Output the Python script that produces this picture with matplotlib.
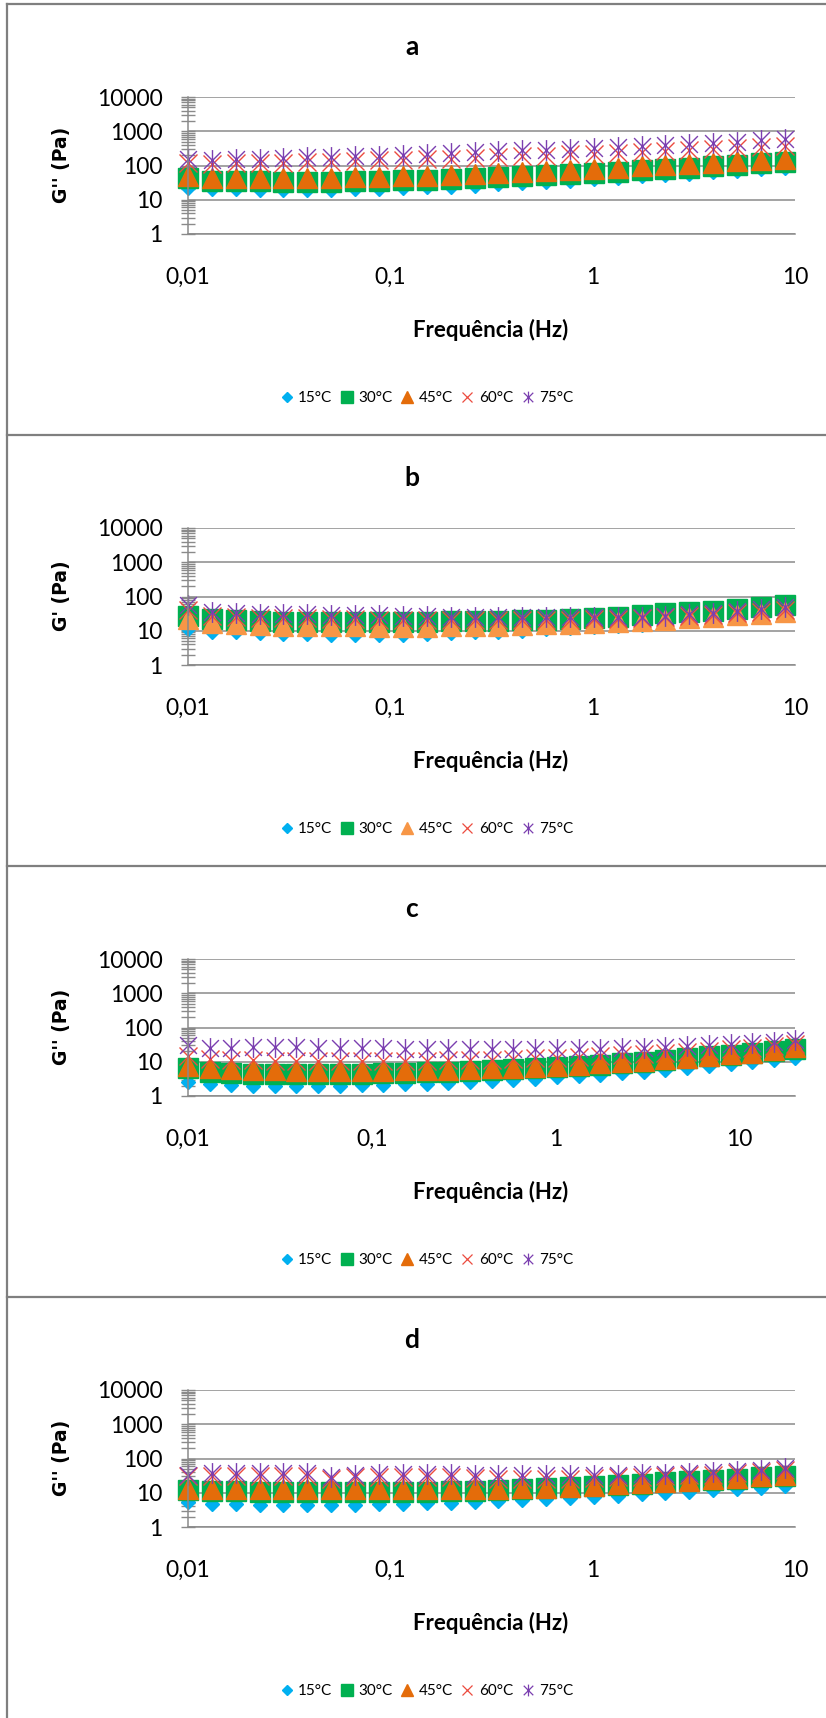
import numpy as np
import matplotlib
matplotlib.use("Agg")
import matplotlib.pyplot as plt
from matplotlib.path import Path
from matplotlib.lines import Line2D
from matplotlib.ticker import FixedLocator, FuncFormatter, NullFormatter

plt.rcParams['font.family'] = ['Lato', 'DejaVu Sans']

W, H = 826, 1718

# Frequency sweep (Hz)
freq = [0.01, 0.0131, 0.0172, 0.0226, 0.0296, 0.0389, 0.051, 0.067, 0.088, 0.115,
        0.151, 0.199, 0.261, 0.342, 0.449, 0.589, 0.773, 1.01, 1.33, 1.75,
        2.29, 3.01, 3.95, 5.18, 6.8, 8.93]
freq_c = freq + [11.7, 15.4, 20.0]

temps = ["15°C", "30°C", "45°C", "60°C", "75°C"]

# Panel a - G'' (Pa)
a_15 = [22, 20, 20, 19, 19, 19, 19, 20, 21, 22, 23, 24, 26, 28, 30, 33, 36, 40, 44, 48, 53, 58, 64, 70, 78, 86]
a_30 = [42, 35, 35, 35, 34, 34, 34, 35, 36, 37, 38, 40, 42, 45, 48, 52, 56, 61, 66, 72, 79, 86, 95, 104, 115, 130]
a_45 = [50, 42, 42, 43, 43, 43, 44, 45, 47, 49, 51, 54, 57, 61, 65, 70, 75, 81, 87, 94, 102, 111, 121, 132, 145, 160]
a_60 = [120, 110, 115, 120, 120, 125, 130, 135, 140, 145, 150, 160, 165, 175, 185, 195, 210, 220, 235, 250, 265, 280, 300, 320, 340, 360]
a_75 = [150, 140, 150, 160, 170, 175, 180, 185, 195, 205, 215, 230, 245, 260, 275, 290, 310, 330, 350, 375, 400, 430, 460, 500, 540, 590]

# Panel b - G' (Pa)
b_15 = [11, 9.5, 9, 8.5, 8, 8, 7.5, 7.5, 7.5, 7.5, 8, 8.5, 9, 9.5, 10, 11, 12, 13, 14, 15, 17, 19, 21, 24, 27, 31]
b_30 = [27, 22, 21, 19, 18, 18, 18, 18, 18, 18, 18, 19, 19, 19, 20, 21, 22, 24, 26, 29, 32, 35, 38, 44, 48, 55]
b_45 = [22, 17, 16, 15, 14, 14, 14, 14, 13, 13, 13, 14, 14, 14, 15, 16, 16, 17, 18, 19, 21, 23, 25, 28, 31, 36]
b_60 = [40, 27, 26, 24, 23, 23, 22, 22, 21, 21, 21, 21, 21, 21, 21, 21, 21, 22, 22, 23, 25, 27, 29, 32, 35, 40]
b_75 = [55, 35, 33, 31, 30, 30, 29, 28, 28, 27, 27, 26, 26, 26, 25, 25, 25, 25, 25, 26, 27, 30, 33, 37, 42, 50]

# Panel c - G'' (Pa), sweep up to 20 Hz
c_15 = [2.6, 2.2, 2.1, 2.0, 2.0, 2.0, 2.0, 2.0, 2.1, 2.1, 2.2, 2.3, 2.4, 2.6, 2.8, 3.0, 3.2, 3.5, 3.8, 4.2,
        4.6, 5.1, 5.7, 6.4, 7.3, 8.4, 9.7, 11.2, 13]
c_30 = [6.5, 5, 4.7, 4.5, 4.4, 4.4, 4.4, 4.4, 4.5, 4.6, 4.7, 4.9, 5.1, 5.4, 5.7, 6.0, 6.5, 7.0, 7.6, 8.3,
        9.1, 10, 11.3, 12.7, 14.3, 16.2, 18.5, 21, 24]
c_45 = [7.5, 6.5, 6.0, 5.8, 5.6, 5.5, 5.5, 5.5, 5.5, 5.5, 5.6, 5.7, 5.9, 6.1, 6.4, 6.7, 7.1, 7.6, 8.2, 8.9,
        9.7, 10.6, 11.7, 13, 14.5, 16.3, 18.5, 21.5, 27]
c_60 = [15, 12, 11, 11, 10.5, 10.5, 10.5, 10.5, 10.5, 10.5, 10.5, 10.5, 11, 11, 11.5, 12, 12.5, 13, 14, 14.5,
        15.5, 16.5, 17.5, 19, 21, 23, 25, 28, 32]
c_75 = [30, 25, 25, 27, 27, 27, 26, 25, 25, 25, 24, 23, 23, 23, 23, 23, 23, 23, 24, 24,
        25, 26, 27, 28, 30, 32, 35, 38, 42]

# Panel d - G'' (Pa)
d_15 = [5.5, 4.8, 4.6, 4.5, 4.4, 4.4, 4.4, 4.5, 4.6, 4.7, 4.9, 5.1, 5.4, 5.7, 6.0, 6.4, 7.0, 7.6, 8.3, 9.0, 9.8, 10.7, 11.7, 12.8, 14.0, 15.5]
d_30 = [12, 11, 11, 10.5, 10.5, 10.5, 10.5, 10.5, 10.5, 10.5, 10.7, 11, 11.5, 12, 12.7, 13.5, 14.5, 15.5, 17, 18.5, 20, 22, 24, 26, 28, 31]
d_45 = [13, 12.5, 12.5, 12.5, 12.5, 12.5, 12.5, 12.5, 12.5, 12.5, 12.5, 12.5, 12.5, 13, 13.5, 14, 15, 16, 17.5, 19, 20.5, 22.5, 24.5, 27, 30, 33]
d_60 = [30, 30, 31, 31, 30, 30, 26, 28, 29, 29, 29, 28, 27, 26, 26, 26, 26, 27, 28, 29, 30, 32, 34, 37, 40, 45]
d_75 = [33, 37, 38, 38, 37, 37, 28, 34, 36, 36, 36, 35, 33, 32, 32, 33, 33, 33, 34, 35, 36, 38, 41, 44, 47, 52]

panels = [
    ("a", "G'' (Pa)", freq, [a_15, a_30, a_45, a_60, a_75], 10, "#E46C0A"),
    ("b", "G' (Pa)", freq, [b_15, b_30, b_45, b_60, b_75], 10, "#F79646"),
    ("c", "G'' (Pa)", freq_c, [c_15, c_30, c_45, c_60, c_75], 20, "#E46C0A"),
    ("d", "G'' (Pa)", freq, [d_15, d_30, d_45, d_60, d_75], 10, "#E46C0A"),
]

# Excel style "star": an x with a vertical stroke through it
star = Path([(-0.5, -0.5), (0.5, 0.5), (-0.5, 0.5), (0.5, -0.5), (0, -0.62), (0, 0.62)],
            [Path.MOVETO, Path.LINETO] * 3)

grey = "#8a8a8a"
decades = [1, 10, 100, 1000, 10000]
minor_y = [m * d for d in decades[:-1] for m in range(2, 10)]


def styles(orange):
    return [
        dict(marker="D", ms=7, color="#00B0F0", mec="#00B0F0"),
        dict(marker="s", ms=14.5, color="#00B050", mec="#00B050"),
        dict(marker="^", ms=14, color=orange, mec=orange),
        dict(marker="x", ms=13, color="#EC4B3F", mew=1.0),
        dict(marker=star, ms=15, color="#7B3FB0", mfc="none", mew=1.0),
    ]


def legend_styles(orange):
    return [
        dict(marker="D", ms=5.5, color="#00B0F0"),
        dict(marker="s", ms=8, color="#00B050"),
        dict(marker="^", ms=8.5, color=orange),
        dict(marker="x", ms=7, color="#EC4B3F", mew=0.9),
        dict(marker=star, ms=8.5, color="#7B3FB0", mfc="none", mew=0.9),
    ]


fig = plt.figure(figsize=(W / 100, H / 100), dpi=100)

tops = [97, 528, 959, 1390]
left, right, plot_h = 188, 795, 137

for (letter, ylab, x, series, xmax, orange), top in zip(panels, tops):
    ax = fig.add_axes([left / W, 1 - (top + plot_h) / H, (right - left) / W, plot_h / H])
    for y, st in zip(series, styles(orange)):
        ax.plot(x, y, ls="none", clip_on=False, **st)

    ax.set_xscale("log")
    ax.set_yscale("log")
    ax.set_xlim(0.01, xmax)
    ax.set_ylim(1, 10000)

    ax.yaxis.set_major_locator(FixedLocator(decades))
    ax.yaxis.set_major_formatter(FuncFormatter(lambda v, p: "%d" % v))
    ax.yaxis.set_minor_locator(FixedLocator(minor_y))
    ax.yaxis.set_minor_formatter(NullFormatter())
    ax.xaxis.set_major_locator(FixedLocator([0.01, 0.1, 1, 10]))
    ax.xaxis.set_major_formatter(FuncFormatter(lambda v, p: ("%g" % v).replace(".", ",")))
    ax.xaxis.set_minor_locator(FixedLocator([]))

    ax.tick_params(axis="y", which="both", direction="inout", length=10.5, width=1,
                   color=grey, pad=13, labelsize=16.5)
    ax.tick_params(axis="x", which="both", length=0, pad=24, labelsize=16.5)

    ax.grid(axis="y", which="major", color=grey, lw=1.1)
    ax.set_axisbelow(True)
    for s in ["top", "right"]:
        ax.spines[s].set_visible(False)
    ax.spines["left"].set_color(grey)
    ax.spines["bottom"].set_color(grey)
    ax.spines["left"].set_linewidth(1.1)
    ax.spines["bottom"].set_linewidth(1.1)

    fig.text(412 / W, 1 - (top - 50) / H, letter, ha="center", va="center",
             fontsize=19, fontweight="bold")
    fig.text(491 / W, 1 - (top + 233) / H, "Frequência (Hz)", ha="center", va="center",
             fontsize=16, fontweight="bold")
    fig.text(62 / W, 1 - (top + 68) / H, ylab, ha="center", va="center", rotation=90,
             fontsize=13.5, fontweight="bold", family="DejaVu Sans")

    handles = [Line2D([], [], ls="none", **st) for st in legend_styles(orange)]
    fig.legend(handles, temps, loc="center", bbox_to_anchor=(427 / W, 1 - (top + 301) / H),
               ncol=5, frameon=False, fontsize=11, handlelength=0.8, handletextpad=0.35,
               columnspacing=0.55, borderaxespad=0)

    # panel frame
    by = 1 - (top - 93) / H
    fig.add_artist(Line2D([7 / W, 1], [by, by], color="#7f7f7f", lw=1.6))

fig.add_artist(Line2D([7 / W, 7 / W], [0, 1 - 4 / H], color="#7f7f7f", lw=1.6))

fig.savefig("out.png", dpi=100)
